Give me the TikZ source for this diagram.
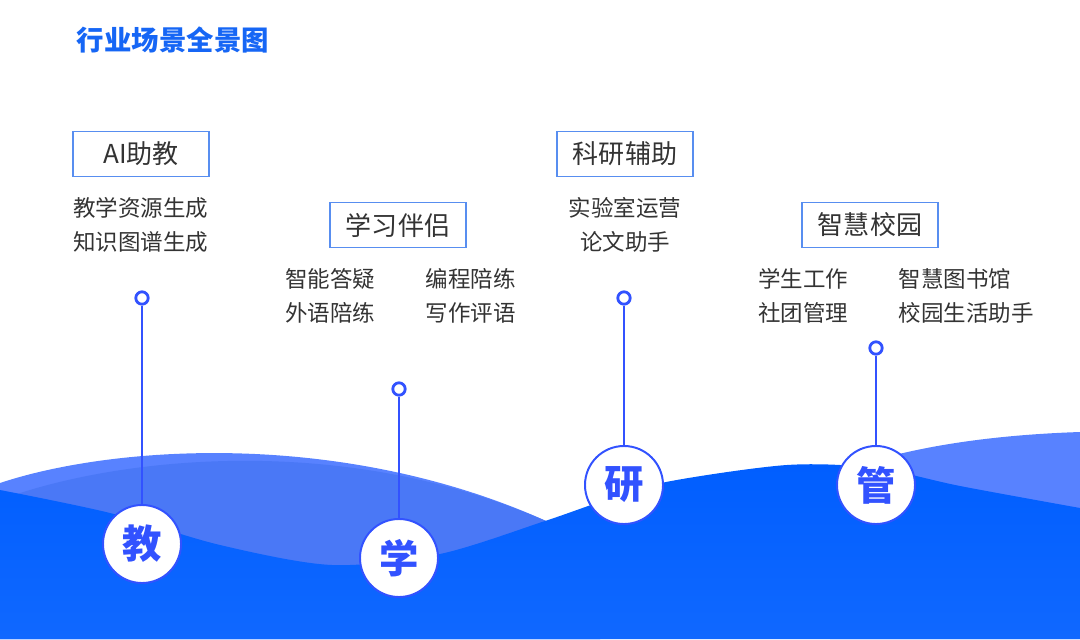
\documentclass[tikz,border=0pt]{standalone}
\usepackage{fontspec}
\setmainfont{Noto Sans CJK SC}
\usetikzlibrary{positioning}
\definecolor{titleblue}{RGB}{22,102,245}
\definecolor{mainblue}{RGB}{0,94,255}
\definecolor{lowblue}{RGB}{16,104,255}
\definecolor{waveA}{RGB}{88,130,255}
\definecolor{waveB}{RGB}{74,120,246}
\definecolor{ringblue}{RGB}{50,82,255}
\definecolor{frameblue}{RGB}{88,142,240}
\definecolor{textgray}{RGB}{51,51,51}

\begin{document}
\begin{tikzpicture}[
    x=0.025cm, y=-0.025cm,
    every node/.style={text=textgray},
    box/.style={draw=frameblue, line width=1.1pt, fill=white, minimum width=3.4cm, minimum height=1.13cm, font=\fontsize{18.5}{20}\selectfont},
    item/.style={align=left, inner sep=0pt, font=\fontsize{16}{24.5}\selectfont},
    dot/.style={circle, draw=ringblue, line width=2pt, fill=white, minimum size=0.31cm, inner sep=0pt},
    badge/.style={circle, draw=ringblue, line width=1.4pt, fill=white, minimum size=1.95cm, inner sep=0pt, text=ringblue, font=\fontsize{28}{30}\selectfont\bfseries},
    stem/.style={draw=ringblue, line width=1.4pt}
]
\useasboundingbox (0,0) rectangle (1080,639);

\fill[waveA] (0,483) .. controls (120,443) and (380,425) .. (600,548) -- (600,639) -- (0,639) -- cycle;
\fill[waveB] (0,500) .. controls (120,455) and (380,425) .. (600,548) -- (600,639) -- (0,639) -- cycle;
\fill[waveA] (830,476) .. controls (880,455) and (960,436) .. (1080,432) -- (1080,639) -- (830,639) -- cycle;
\shade[top color=mainblue, bottom color=lowblue] plot[smooth] coordinates {(0,490) (110,513) (220,545) (332,565) (440,554) (545,521) (600,502) (666,482) (787,465) (876,468) (960,486) (1080,508)} -- (1080,639) -- (0,639) -- cycle;

\node[anchor=west, text=titleblue, font=\fontsize{19.5}{20}\selectfont\bfseries] (title) at (72,40) {行业场景全景图};

\node[box] (ai) at (141,154) {AI助教};
\node[item, anchor=west] (aiitems) at (73,225) {教学资源生成\\知识图谱生成};
\node[box] (study) at (398,225) {学习伴侣};
\node[item, anchor=west] (studyl) at (285,296) {智能答疑\\外语陪练};
\node[item, right=1.25cm of studyl] (studyr) {编程陪练\\写作评语};
\node[box] (res) at (625,154) {科研辅助};
\node[item, align=center] (resitems) at (625,225) {实验室运营\\论文助手};
\node[box] (camp) at (870,225) {智慧校园};
\node[item, anchor=west] (campl) at (758,296) {学生工作\\社团管理};
\node[item, right=1.25cm of campl] (campr) {智慧图书馆\\校园生活助手};

\node[dot] (dotjiao) at (142,298) {};
\node[dot] (dotxue) at (399,389) {};
\node[dot] (dotyan) at (624,298) {};
\node[dot] (dotguan) at (876,348) {};

\node[badge] (jiao) at (142,544) {教};
\node[badge] (xue) at (399,558) {学};
\node[badge] (yan) at (624,485) {研};
\node[badge] (guan) at (876,485) {管};

\draw[stem] (dotjiao) -- (jiao);
\draw[stem] (dotxue) -- (xue);
\draw[stem] (dotyan) -- (yan);
\draw[stem] (dotguan) -- (guan);
\end{tikzpicture}
\end{document}
